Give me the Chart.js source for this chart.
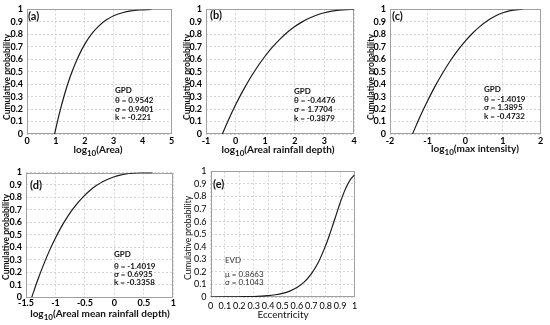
<!DOCTYPE html>
<html>
<head>
<meta charset="utf-8">
<script src="https://cdn.jsdelivr.net/npm/chart.js@4.4.1/dist/chart.umd.min.js"></script>
<style>
  html, body { margin: 0; padding: 0; background: #fff; }
  #wrap { position: relative; width: 550px; height: 325px; overflow: hidden; }
  canvas { position: absolute; }
</style>
</head>
<body>
<div id="wrap">
  <canvas id="cA"></canvas>
  <canvas id="cB"></canvas>
  <canvas id="cC"></canvas>
  <canvas id="cD"></canvas>
  <canvas id="cE"></canvas>
</div>
<script>
// curve values (x, cumulative probability)
const areaX = [0.954, 1.1, 1.3, 1.5, 1.75, 2.0, 2.25, 2.5, 2.75, 3.0, 3.3, 3.6, 3.9, 4.3];
const areaY = [0, 0.146, 0.319, 0.463, 0.608, 0.721, 0.807, 0.870, 0.916, 0.949, 0.973, 0.988, 0.995, 0.999];

const depthX = [-0.448, -0.25, 0, 0.25, 0.5, 0.75, 1.0, 1.25, 1.5, 1.75, 2.0, 2.25, 2.5, 2.75, 3.0, 3.25, 3.5, 3.75, 4.0];
const depthY = [0, 0.108, 0.234, 0.348, 0.451, 0.544, 0.626, 0.699, 0.762, 0.816, 0.862, 0.900, 0.931, 0.955, 0.973, 0.986, 0.994, 0.998, 1.0];

const intensX = [-1.402, -1.2, -1.0, -0.8, -0.6, -0.4, -0.2, 0, 0.2, 0.4, 0.6, 0.8, 1.0, 1.2, 1.4, 1.53];
const intensY = [0, 0.140, 0.267, 0.384, 0.490, 0.586, 0.671, 0.746, 0.811, 0.866, 0.911, 0.947, 0.973, 0.990, 0.998, 1.0];

const meanX = [-1.402, -1.3, -1.2, -1.1, -1.0, -0.9, -0.8, -0.7, -0.6, -0.5, -0.4, -0.3, -0.2, -0.1, 0, 0.1, 0.2, 0.3, 0.4, 0.5, 0.65];
const meanY = [0, 0.140, 0.264, 0.376, 0.475, 0.564, 0.642, 0.710, 0.769, 0.819, 0.862, 0.897, 0.926, 0.948, 0.966, 0.979, 0.988, 0.994, 0.998, 0.999, 1.0];

const eccX = [0, 0.1, 0.2, 0.3, 0.4, 0.45, 0.5, 0.55, 0.6, 0.65, 0.7, 0.75, 0.8, 0.825, 0.85, 0.875, 0.9, 0.925, 0.95, 0.975, 1.0];
const eccY = [0, 0.001, 0.002, 0.004, 0.011, 0.018, 0.029, 0.047, 0.075, 0.118, 0.184, 0.279, 0.411, 0.490, 0.575, 0.662, 0.749, 0.827, 0.892, 0.941, 0.973];

// tick labels
const probTicks = [0, 0.1, 0.2, 0.3, 0.4, 0.5, 0.6, 0.7, 0.8, 0.9, 1];
const areaTicks = [0, 1, 2, 3, 4, 5];
const depthTicks = [-1, 0, 1, 2, 3, 4];
const intensTicks = [-2, -1, 0, 1, 2];
const meanTicks = [-1.5, -1, -0.5, 0, 0.5, 1];
const eccTicks = [0, 0.1, 0.2, 0.3, 0.4, 0.5, 0.6, 0.7, 0.8, 0.9, 1];

// texts
const yTitle = 'Cumulative probability';
const areaTitle = ['log', '10', '(Area)'];
const depthTitle = ['log', '10', '(Areal rainfall depth)'];
const intensTitle = ['log', '10', '(max intensity)'];
const meanTitle = ['log', '10', '(Areal mean rainfall depth)'];
const eccTitle = ['Eccentricity', '', ''];
const areaNotes = ['GPD', 'θ = 0.9542', 'σ = 0.9401', 'k = -0.221'];
const depthNotes = ['GPD', 'θ = -0.4476', 'σ = 1.7704', 'k = -0.3879'];
const intensNotes = ['GPD', 'θ = -1.4019', 'σ = 1.3895', 'k = -0.4732'];
const meanNotes = ['GPD', 'θ = -1.4019', 'σ = 0.6935', 'k = -0.3358'];
const eccNotes = ['EVD', 'μ = 0.8663', 'σ = 0.1043'];

const FONT = 'Lato';

// draws frame, panel letter, notes and axis titles
const panelText = {
  id: 'panelText',
  beforeDatasetsDraw(chart) {
    const a = chart.chartArea;
    const ctx = chart.ctx;
    ctx.save();
    ctx.strokeStyle = '#a0a0a0';
    ctx.lineWidth = 1;
    ctx.strokeRect(Math.round(a.left) + 0.5, Math.round(a.top) + 0.5,
      Math.round(a.right - a.left) - 1, Math.round(a.bottom - a.top) - 1);
    ctx.restore();
  },
  afterDraw(chart, args, o) {
    const ctx = chart.ctx;
    const ox = o.box.x, oy = o.box.y;
    const w = o.bold ? '700 ' : '400 ';
    ctx.save();
    ctx.fillStyle = '#111';
    ctx.textBaseline = 'middle';
    ctx.textAlign = 'left';

    ctx.font = '700 11px ' + FONT;
    ctx.fillText(o.letter, o.letterAt[0] - ox, o.letterAt[1] - oy);

    ctx.font = w + '8px ' + FONT;
    ctx.fillStyle = o.bold ? '#111' : '#333';
    o.notes.forEach((t, i) => ctx.fillText(t, o.notesX - ox, o.notesY[i] - oy));
    ctx.fillStyle = '#111';

    ctx.save();
    ctx.translate(o.yTitleAt[0] - ox, o.yTitleAt[1] - oy);
    ctx.rotate(-Math.PI / 2);
    ctx.textAlign = 'center';
    ctx.font = (o.bold ? '700 ' : '400 ') + '8.5px ' + FONT;
    ctx.fillText(yTitle, 0, 0);
    ctx.restore();

    const big = w + '10px ' + FONT, small = w + '8px ' + FONT;
    const p = o.xTitle;
    ctx.font = big;
    const w1 = ctx.measureText(p[0]).width, w3 = ctx.measureText(p[2]).width;
    ctx.font = small;
    const w2 = ctx.measureText(p[1]).width;
    let x = o.xTitleAt[0] - ox - (w1 + w2 + w3) / 2;
    const y = o.xTitleAt[1] - oy;
    ctx.font = big;
    ctx.fillText(p[0], x, y);
    ctx.font = small;
    ctx.fillText(p[1], x + w1, y + 3.5);
    ctx.font = big;
    ctx.fillText(p[2], x + w1 + w2, y);
    ctx.restore();
  }
};

function fmt(v) {
  return String(Math.round(v * 10) / 10);
}

function makePanel(id, box, xs, ys, xMin, xMax, xTicks, txt) {
  const cv = document.getElementById(id);
  cv.width = box.w; cv.height = box.h;
  cv.style.left = box.x + 'px'; cv.style.top = box.y + 'px';
  cv.style.width = box.w + 'px'; cv.style.height = box.h + 'px';
  const tickFont = { family: FONT, size: 9, weight: txt.bold ? 700 : 400 };
  const pts = xs.map((v, i) => ({ x: v, y: ys[i] }));
  const gridStyle = { color: '#d4d4d4', drawTicks: false };
  return new Chart(cv.getContext('2d'), {
    type: 'scatter',
    data: {
      datasets: [{
        data: pts,
        showLine: true,
        borderColor: '#1c1c1c',
        borderWidth: 1.2,
        pointRadius: 0,
        cubicInterpolationMode: 'monotone'
      }]
    },
    options: {
      responsive: false,
      animation: false,
      devicePixelRatio: 1,
      layout: {
        padding: { left: 0, bottom: 0, top: box.t - box.y, right: box.x + box.w - box.r }
      },
      plugins: {
        legend: { display: false },
        tooltip: { enabled: false },
        panelText: Object.assign({ box: box }, txt)
      },
      scales: {
        x: {
          type: 'linear', min: xMin, max: xMax,
          afterBuildTicks: s => { s.ticks = xTicks.map(v => ({ value: v })); },
          afterFit: s => { s.height = box.y + box.h - box.b; },
          grid: gridStyle,
          border: { display: false, dash: [2, 2] },
          ticks: { color: '#000', font: tickFont, padding: box.xPad, maxRotation: 0, autoSkip: false, callback: fmt }
        },
        y: {
          type: 'linear', min: 0, max: 1,
          afterBuildTicks: s => { s.ticks = probTicks.map(v => ({ value: v })); },
          afterFit: s => { s.width = box.l - box.x; },
          grid: gridStyle,
          border: { display: false, dash: [2, 2] },
          ticks: { color: '#000', font: tickFont, padding: 4, autoSkip: false, callback: fmt }
        }
      }
    },
    plugins: [panelText]
  });
}

makePanel('cA', { x: 0, y: 0, w: 183, h: 162, l: 27, t: 9, r: 171.5, b: 134, xPad: 2 },
  areaX, areaY, 0, 5, areaTicks,
  { bold: true, letter: '(a)', letterAt: [28, 16], notes: areaNotes, notesX: 115, notesY: [90, 100, 109, 117],
    yTitleAt: [7, 77], xTitle: areaTitle, xTitleAt: [98, 150] });

makePanel('cB', { x: 183, y: 0, w: 182, h: 162, l: 206, t: 9, r: 354, b: 134, xPad: 2 },
  depthX, depthY, -1, 4, depthTicks,
  { bold: true, letter: '(b)', letterAt: [210, 15], notes: depthNotes, notesX: 294, notesY: [91, 100, 109, 118],
    yTitleAt: [187, 77], xTitle: depthTitle, xTitleAt: [278, 150] });

makePanel('cC', { x: 365, y: 0, w: 185, h: 162, l: 390, t: 9, r: 540.5, b: 134, xPad: 2 },
  intensX, intensY, -2, 2, intensTicks,
  { bold: true, letter: '(c)', letterAt: [392, 16], notes: intensNotes, notesX: 484, notesY: [89, 99, 107.5, 116],
    yTitleAt: [371, 77], xTitle: intensTitle, xTitleAt: [475, 149] });

makePanel('cD', { x: 0, y: 162, w: 183, h: 163, l: 26, t: 172.5, r: 173.3, b: 297.3, xPad: 0 },
  meanX, meanY, -1.5, 1, meanTicks,
  { bold: true, letter: '(d)', letterAt: [30, 185], notes: meanNotes, notesX: 114, notesY: [254, 266, 274, 282],
    yTitleAt: [6, 237], xTitle: meanTitle, xTitleAt: [100, 314] });

makePanel('cE', { x: 183, y: 162, w: 187, h: 163, l: 210.5, t: 171, r: 354.5, b: 297, xPad: 4 },
  eccX, eccY, 0, 1, eccTicks,
  { bold: false, letter: '(e)', letterAt: [213, 184], notes: eccNotes, notesX: 225, notesY: [260, 274, 282],
    yTitleAt: [188, 238], xTitle: eccTitle, xTitleAt: [283, 315] });
</script>
</body>
</html>
